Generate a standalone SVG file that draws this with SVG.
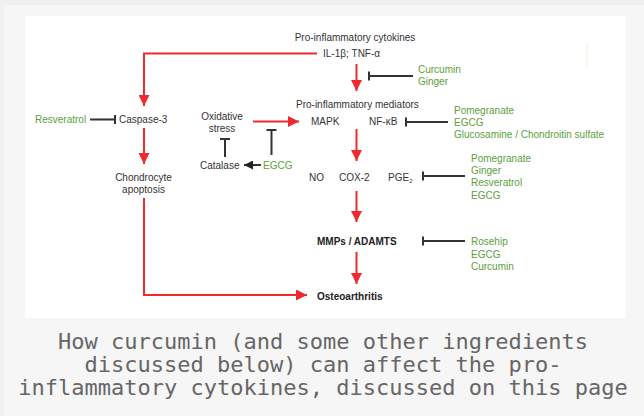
<svg xmlns="http://www.w3.org/2000/svg" width="644" height="416" viewBox="0 0 644 416">
<defs>
<style>
.t{font-family:"Liberation Sans",Arial,sans-serif;font-size:10px;fill:#333}
.g{font-family:"Liberation Sans",Arial,sans-serif;font-size:10px;fill:#5c9e3c}
.b{font-weight:bold;fill:#222}
.r{fill:none;stroke:#ee2a2e;stroke-width:2}
.k{fill:none;stroke:#333;stroke-width:2}
.cap{font-family:"DejaVu Sans Mono",monospace;font-size:22px;fill:#666666}
</style>
<marker id="ar" markerUnits="userSpaceOnUse" markerWidth="11" markerHeight="11" viewBox="0 0 10 10" refX="10" refY="5" orient="auto">
<path d="M0,0 L10,5 L0,10 Z" fill="#ee2a2e"/>
</marker>
<marker id="ak" markerUnits="userSpaceOnUse" markerWidth="9" markerHeight="9" viewBox="0 0 10 10" refX="10" refY="5" orient="auto">
<path d="M0,0 L10,5 L0,10 Z" fill="#222"/>
</marker>
</defs>
<rect x="0" y="0" width="644" height="416" fill="#f0f0f0"/>
<rect x="4" y="5" width="640" height="411" fill="#f6f6f6"/>
<rect x="25" y="16" width="601" height="302" fill="#ffffff"/>
<line x1="587" y1="43" x2="587" y2="67" stroke="#f8f3e2" stroke-width="1.5"/>

<g id="connectors">
<path class="r" d="M317,53.5 H144 V106" marker-end="url(#ar)"/>
<path class="r" d="M356.5,64 V91" marker-end="url(#ar)"/>
<path class="k" d="M413,76 H369 M369,71.5 V80.5"/>
<path class="k" d="M90,119.5 H115 M115,115 V124"/>
<path class="r" d="M144,128 V164" marker-end="url(#ar)"/>
<path class="r" d="M144,198 V295 H307" marker-end="url(#ar)"/>
<path class="r" d="M253,121.5 H299" marker-end="url(#ar)"/>
<path class="k" d="M225,157 V139 M220,139 H230"/>
<path class="k" d="M271.5,155 V130 M266.5,130 H276.5"/>
<path class="k" stroke-width="1.8" d="M261,165 H244" marker-end="url(#ak)"/>
<path class="r" d="M356.5,129 V161" marker-end="url(#ar)"/>
<path class="k" d="M448,122 H406 M406,117.5 V126.5"/>
<path class="k" d="M465,176 H423 M423,171.5 V180.5"/>
<path class="r" d="M356.5,191 V222" marker-end="url(#ar)"/>
<path class="k" d="M465,241 H423 M423,236.5 V245.5"/>
<path class="r" d="M356.5,252 V284" marker-end="url(#ar)"/>
</g>

<g id="cytokines">
<text class="t" x="355" y="41" text-anchor="middle">Pro-inflammatory cytokines</text>
<text class="t" x="323" y="57">IL-1β; TNF-α</text>
</g>
<g id="inhib-cytokines">
<text class="g" x="418" y="72.5">Curcumin</text>
<text class="g" x="418" y="85">Ginger</text>
</g>
<g id="mediators">
<text class="t" x="296" y="107.5">Pro-inflammatory mediators</text>
<text class="t" x="311" y="125">MAPK</text>
<text class="t" x="369" y="125">NF-κB</text>
</g>
<g id="inhib-nfkb">
<text class="g" x="454" y="113.5">Pomegranate</text>
<text class="g" x="454" y="125.5">EGCG</text>
<text class="g" x="454" y="137.5">Glucosamine / Chondroitin sulfate</text>
</g>
<g id="resveratrol"><text class="g" x="35" y="123">Resveratrol</text></g>
<g id="caspase"><text class="t" x="119" y="123">Caspase-3</text></g>
<g id="apoptosis">
<text class="t" x="143.5" y="180.5" text-anchor="middle">Chondrocyte</text>
<text class="t" x="143.5" y="192.5" text-anchor="middle">apoptosis</text>
</g>
<g id="oxidative">
<text class="t" x="222" y="119.5" text-anchor="middle">Oxidative</text>
<text class="t" x="222" y="131.5" text-anchor="middle">stress</text>
</g>
<g id="catalase"><text class="t" x="200" y="168.5">Catalase</text></g>
<g id="egcg"><text class="g" x="263" y="168.5">EGCG</text></g>
<g id="enzymes">
<text class="t" x="309" y="180.5">NO</text>
<text class="t" x="339" y="180.5">COX-2</text>
<text class="t" x="388" y="180.5">PGE<tspan font-size="6" dy="2">2</tspan></text>
</g>
<g id="inhib-pge">
<text class="g" x="471" y="161.5">Pomegranate</text>
<text class="g" x="471" y="174">Ginger</text>
<text class="g" x="471" y="186">Resveratrol</text>
<text class="g" x="471" y="198.5">EGCG</text>
</g>
<g id="mmps"><text class="t b" x="317" y="244.5">MMPs / ADAMTS</text></g>
<g id="inhib-mmps">
<text class="g" x="471" y="244.5">Rosehip</text>
<text class="g" x="471" y="257.5">EGCG</text>
<text class="g" x="471" y="270">Curcumin</text>
</g>
<g id="oa"><text class="t b" x="317" y="299.5" font-size="12">Osteoarthritis</text></g>

<g id="caption">
<text class="cap" x="323" y="349" text-anchor="middle">How curcumin (and some other ingredients</text>
<text class="cap" x="323" y="372" text-anchor="middle">discussed below) can affect the pro-</text>
<text class="cap" x="323" y="395" text-anchor="middle">inflammatory cytokines, discussed on this page</text>
</g>
</svg>
